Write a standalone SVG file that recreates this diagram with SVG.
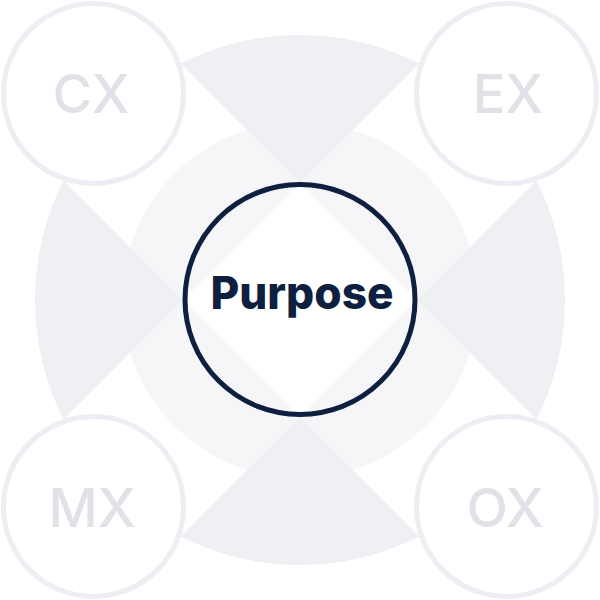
<svg xmlns="http://www.w3.org/2000/svg" width="600" height="600" viewBox="0 0 600 600">
<style>
.wedge{fill:#eff0f4}
.corner circle{fill:#ffffff;stroke:#eceef3;stroke-width:5}
.corner text{font-family:Inter,"Noto Sans",sans-serif;font-weight:500;font-size:54px;fill:#e0e2e8;text-anchor:middle}
.center text{font-family:Inter,"Noto Sans",sans-serif;font-weight:800;font-size:45px;fill:#0e1f3f;text-anchor:middle}
</style>
<rect width="600" height="600" fill="#ffffff"/>
<g id="background">
<circle cx="300" cy="300" r="178" fill="#f6f6f9"/>
<path class="wedge" d="M300,183 L180.5,63.5 A265,265 0 0 1 419.5,63.5 Z"/>
<path class="wedge" d="M417,300 L536.5,180.5 A265,265 0 0 1 536.5,419.5 Z"/>
<path class="wedge" d="M300,417 L419.5,536.5 A265,265 0 0 1 180.5,536.5 Z"/>
<path class="wedge" d="M183,300 L63.5,419.5 A265,265 0 0 1 63.5,180.5 Z"/>
<path d="M300,183 L417,300 L300,417 L183,300 Z" fill="#ffffff"/>
</g>
<g id="connectors"></g>
<g id="purpose" class="center">
<circle cx="300" cy="299.5" r="115" fill="none" stroke="#0e1f3f" stroke-width="5"/>
<text x="302" y="309" textLength="183" lengthAdjust="spacingAndGlyphs">Purpose</text>
</g>
<g id="cx" class="corner">
<circle cx="93.5" cy="93.5" r="90"/>
<text x="91" y="113">CX</text>
</g>
<g id="ex" class="corner">
<circle cx="506.5" cy="93.5" r="90"/>
<text x="508" y="113">EX</text>
</g>
<g id="mx" class="corner">
<circle cx="93.5" cy="506.5" r="90"/>
<text x="92" y="527">MX</text>
</g>
<g id="ox" class="corner">
<circle cx="506.5" cy="506.5" r="90"/>
<text x="505" y="527">OX</text>
</g>
</svg>
